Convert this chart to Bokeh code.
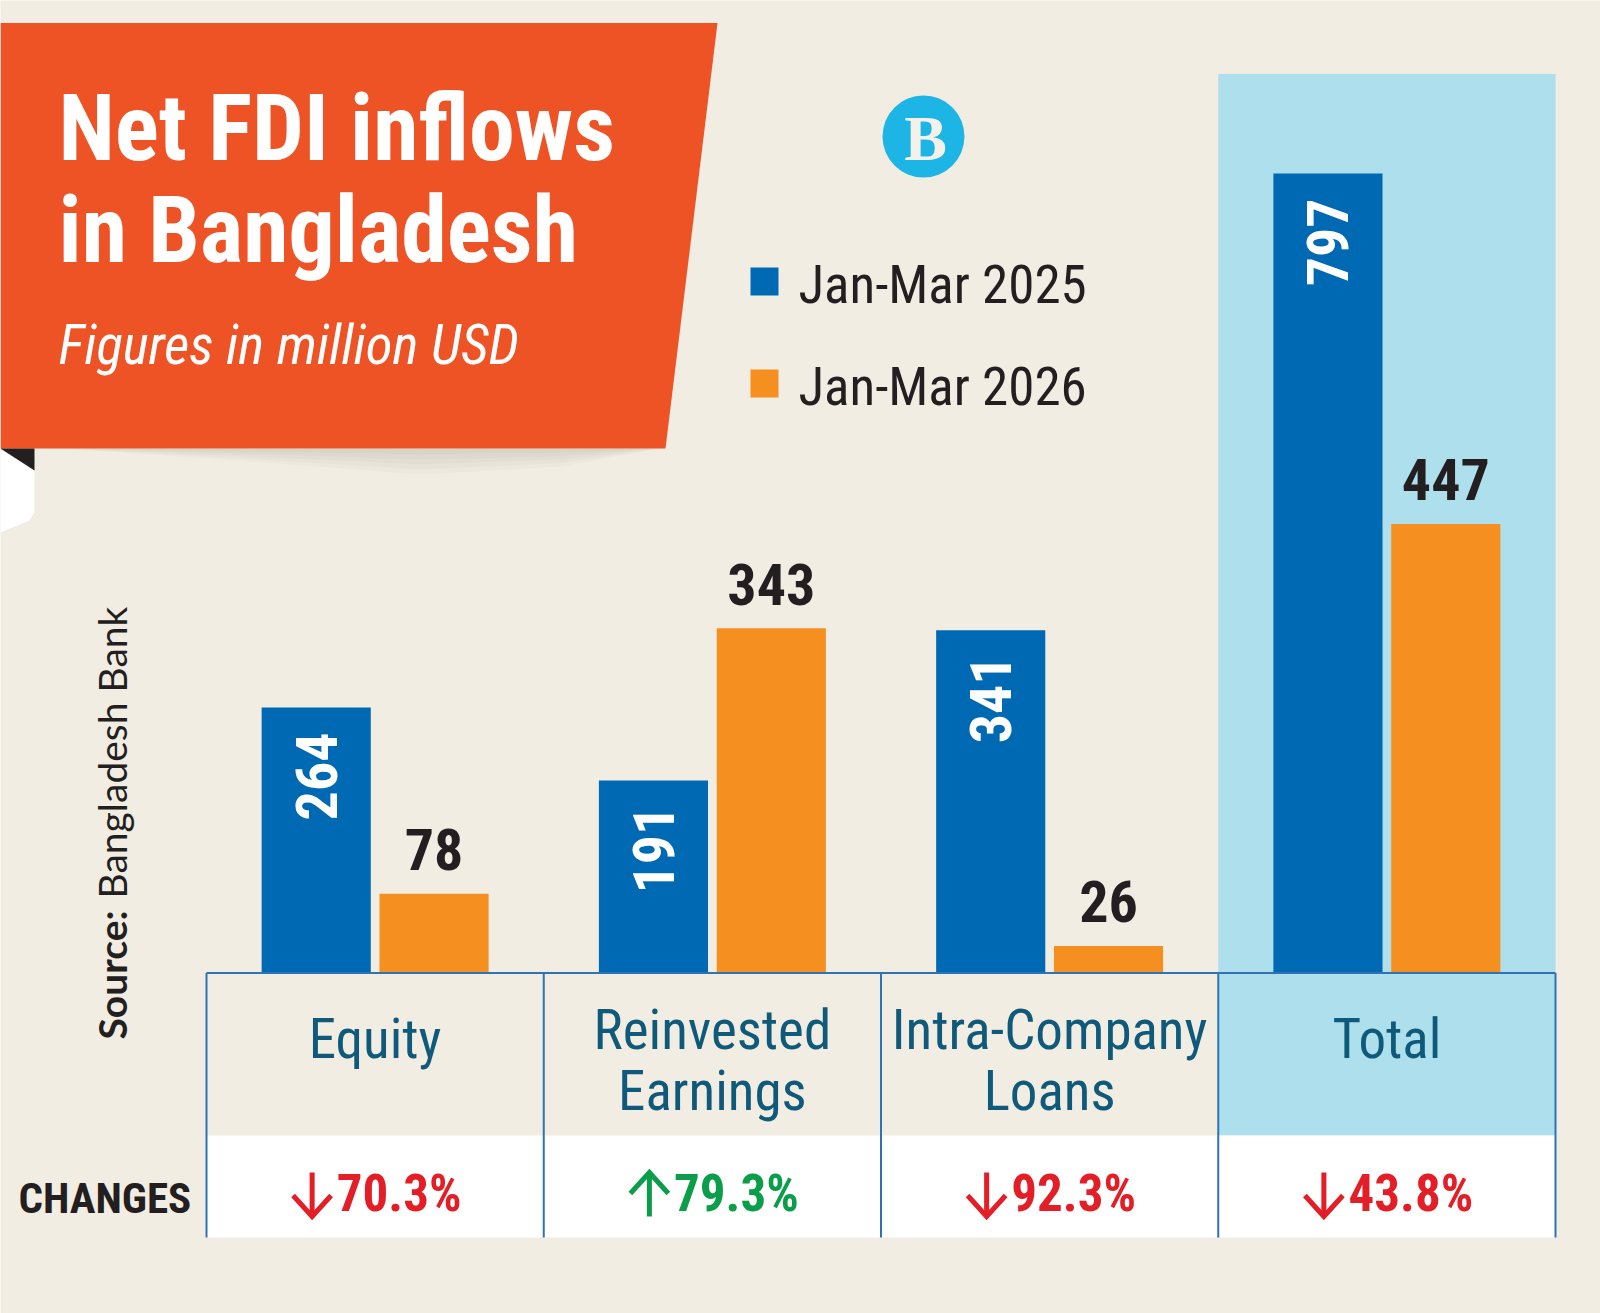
import math
from bokeh.plotting import figure
from bokeh.models import Range1d
from bokeh.core.properties import value
from bokeh.embed import file_html
from bokeh.resources import INLINE

# ---------------- data ----------------
categories = ["Equity", "Reinvested Earnings", "Intra-Company Loans", "Total"]
label_lines = [["Equity"], ["Reinvested", "Earnings"], ["Intra-Company", "Loans"], ["Total"]]
series_names = ["Jan-Mar 2025", "Jan-Mar 2026"]
fdi_2025 = [264, 191, 341, 797]
fdi_2026 = [78, 343, 26, 447]
change_pct = [-70.3, 79.3, -92.3, -43.8]

title_lines = ["Net FDI inflows", "in Bangladesh"]
subtitle = "Figures in million USD"
source_label = "Source:"
source_name = "Bangladesh Bank"
changes_label = "CHANGES"

# ---------------- style ----------------
W, H = 1600, 1313
BG = "#F1EDE3"
BANNER = "#EE5325"
BLUE = "#0069B4"
ORANGE = "#F58F1F"
BAND = "#ADDFEC"
RULE = "#2E74B5"
TEAL = "#0F5A7A"
INK = "#231F20"
RED = "#E31E26"
GREEN = "#0A9D4A"
LOGO = "#1DB4E6"
COND = "Roboto Condensed, Liberation Sans Narrow, DejaVu Sans Condensed, Roboto"
SANS = "Lato"

# the renderer places an "alphabetic" baseline a little below the anchor;
# these factors pull each text back so its baseline sits on the anchor
SHIFT_COND = 0.35
SHIFT_SANS = 0.44


def base(y, size, k=SHIFT_COND):
    return y - k * size


p = figure(width=W, height=H, x_range=Range1d(0, W), y_range=Range1d(H, 0),
           output_backend="svg", toolbar_location=None, min_border=0)
p.axis.visible = False
p.grid.visible = False
p.outline_line_color = None
p.background_fill_color = BG
p.border_fill_color = BG

# category scale (one unit per column) and value scale (million USD)
TABLE_LEFT, COL_W = 206.0, 337.25
BASE_Y = 971.5
PX_PER_M = 1.002
p.extra_x_ranges = {"cat": Range1d(-TABLE_LEFT / COL_W, (W - TABLE_LEFT) / COL_W)}
p.extra_y_ranges = {"val": Range1d(-(H - BASE_Y) / PX_PER_M, BASE_Y / PX_PER_M)}

n = len(categories)
centers = [i + 0.5 for i in range(n)]
total_idx = categories.index("Total")
TABLE_TOP, LABEL_BOTTOM, TABLE_BOTTOM = 972.5, 1135, 1237

# highlighted "Total" column and white changes row
p.quad(left=[total_idx], right=[total_idx + 1], top=[73.5], bottom=[LABEL_BOTTOM],
       x_range_name="cat", fill_color=BAND, line_color=None)
p.quad(left=[0], right=[n], top=[LABEL_BOTTOM], bottom=[TABLE_BOTTOM],
       x_range_name="cat", fill_color="white", line_color=None)

# bars
BAR_W = 0.3236
DODGE = 0.1747
x_a = [c - DODGE for c in centers]
x_b = [c + DODGE for c in centers]
p.vbar(x=x_a, top=fdi_2025, bottom=0, width=BAR_W, x_range_name="cat", y_range_name="val",
       fill_color=BLUE, line_color=None)
p.vbar(x=x_b, top=fdi_2026, bottom=0, width=BAR_W, x_range_name="cat", y_range_name="val",
       fill_color=ORANGE, line_color=None)

# value labels
VAL_SIZE = 58
p.text(x=x_a, y=fdi_2025, text=[str(v) for v in fdi_2025], angle=math.pi / 2,
       x_range_name="cat", y_range_name="val", y_offset=25,
       text_align="right", text_baseline="middle", text_color="white",
       text_font=value(COND), text_font_style="bold", text_font_size=f"{VAL_SIZE}px")
p.text(x=x_b, y=fdi_2026, text=[str(v) for v in fdi_2026],
       x_range_name="cat", y_range_name="val", y_offset=-24 - SHIFT_COND * VAL_SIZE,
       text_align="center", text_baseline="alphabetic", text_color=INK,
       text_font=value(COND), text_font_style="bold", text_font_size=f"{VAL_SIZE}px")

# table rules
p.segment(x0=[0], y0=[TABLE_TOP], x1=[n], y1=[TABLE_TOP], x_range_name="cat",
          line_color=RULE, line_width=2)
p.segment(x0=list(range(n + 1)), y0=[TABLE_TOP] * (n + 1), x1=list(range(n + 1)),
          y1=[TABLE_BOTTOM] * (n + 1), x_range_name="cat", line_color=RULE, line_width=2)

# category labels
LBL_SIZE = 55
lx, ly, lt = [], [], []
for c, lines in zip(centers, label_lines):
    ys = [1058] if len(lines) == 1 else [1049, 1110]
    for t, y in zip(lines, ys):
        lx.append(c); ly.append(base(y, LBL_SIZE)); lt.append(t)
p.text(x=lx, y=ly, text=lt, x_range_name="cat", text_align="center",
       text_baseline="alphabetic", text_color=TEAL, text_font=value(COND),
       text_font_size=f"{LBL_SIZE}px")

# changes row
CHG_SIZE = 43
p.text(x=[18], y=[base(1213, CHG_SIZE)], text=[changes_label], text_align="left",
       text_baseline="alphabetic", text_color=INK, text_font=value(COND),
       text_font_style="bold", text_font_size=f"{CHG_SIZE}px")
chg_colors = [GREEN if c > 0 else RED for c in change_pct]
PCT_SIZE = 51
p.text(x=[c + 24 / COL_W for c in centers], y=[base(1211, PCT_SIZE)] * n,
       text=[f"{abs(c):.1f}%" for c in change_pct], x_range_name="cat",
       text_align="center", text_baseline="alphabetic", text_color=chg_colors,
       text_font=value(COND), text_font_style="bold", text_font_size=f"{PCT_SIZE}px")
axs, ays, acol = [], [], []
hw = 19 / COL_W
for c, pct, col in zip(centers, change_pct, chg_colors):
    cx = c - 63 / COL_W
    if pct < 0:
        tip, tail, head = 1216, 1172, 1195
    else:
        tip, tail, head = 1172, 1216, 1193
    axs += [[cx, cx], [cx - hw, cx, cx + hw]]
    ays += [[tail, tip], [head, tip, head]]
    acol += [col, col]
p.multi_line(xs=axs, ys=ays, x_range_name="cat", line_color=acol, line_width=5,
             line_join="miter")

# title banner with folded corner and soft shadow
for depth in (6, 11, 16, 21, 26):
    p.patch(x=[60, 660, 560, 420, 250],
            y=[448, 448, 448 + depth * 0.7, 448 + depth, 448 + depth * 0.5],
            fill_color="black", fill_alpha=0.018, line_color=None)
p.patch(x=[0, 717, 665, 0], y=[22.5, 22.5, 448, 448], fill_color=BANNER, line_color=None)
p.patch(x=[0, 34, 34, 29, 0], y=[449, 470, 512, 520, 532], fill_color="white", line_color=None)
p.patch(x=[0, 34, 34], y=[448, 448, 470], fill_color="#231F20", line_color=None)

TITLE_SIZE = 92
p.text(x=[58, 58], y=[base(160, TITLE_SIZE), base(262, TITLE_SIZE)], text=title_lines,
       text_align="left", text_baseline="alphabetic", text_color="white",
       text_font=value(COND), text_font_style="bold", text_font_size=f"{TITLE_SIZE}px")
p.text(x=[58], y=[base(364, 55)], text=[subtitle], text_align="left",
       text_baseline="alphabetic", text_color="white", text_font=value(COND),
       text_font_style="italic", text_font_size="55px")

# logo
p.circle(x=[923], y=[136], radius=41, fill_color=LOGO, line_color=None)
p.text(x=[925], y=[138], text=["B"], text_align="center", text_baseline="middle",
       text_color="#F4F1EA", text_font=value("Liberation Serif"), text_font_style="bold",
       text_font_size="64px")

# legend
LEG_SIZE = 53
for top, col, name in zip([267, 369], [BLUE, ORANGE], series_names):
    p.quad(left=[750], right=[778], top=[top], bottom=[top + 28], fill_color=col, line_color=None)
    p.text(x=[798], y=[base(top + 36, LEG_SIZE)], text=[name], text_align="left",
           text_baseline="alphabetic", text_color=INK, text_font=value(COND),
           text_font_size=f"{LEG_SIZE}px")

# source note, reading upwards
SRC_SIZE = 39
src_x = 128.6 - SHIFT_SANS * SRC_SIZE
p.text(x=[src_x], y=[1039], text=[source_label], angle=math.pi / 2, text_align="left",
       text_baseline="alphabetic", text_color=INK, text_font=value(SANS),
       text_font_style="bold", text_font_size=f"{SRC_SIZE}px")
p.text(x=[src_x], y=[898], text=[source_name], angle=math.pi / 2, text_align="left",
       text_baseline="alphabetic", text_color=INK, text_font=value(SANS),
       text_font_size=f"{SRC_SIZE}px")

open("out.html", "w").write(file_html(p, INLINE))
